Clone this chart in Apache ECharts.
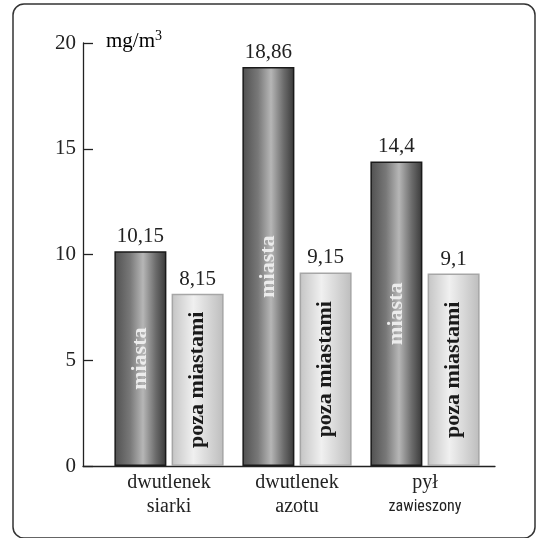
<!DOCTYPE html>
<html>
<head>
<meta charset="utf-8">
<script src="https://cdn.jsdelivr.net/npm/echarts@6/dist/echarts.min.js"></script>
<style>
html,body{margin:0;padding:0;background:#fff;}
#chart{width:537px;height:538px;}
</style>
</head>
<body>
<div id="chart"></div>
<script>
var categories = ['dwutlenek siarki', 'dwutlenek azotu', 'pył zawieszony'];
var seriesNames = ['miasta', 'poza miastami'];
var miasta = [10.15, 18.86, 14.4];
var pozaMiastami = [8.15, 9.15, 9.1];
var yTicks = [0, 5, 10, 15, 20];
var unitLabel = 'mg/m';
var unitSup = '3';

var SERIF = 'Liberation Serif';
var SANS = 'Roboto Condensed';

var chart = echarts.init(document.getElementById('chart'), null, {renderer: 'canvas'});

var gridBox = {top: 43, bottom: 72};
function fmt(v) { return String(v).replace('.', ','); }

var darkGrad = new echarts.graphic.LinearGradient(0, 0, 1, 0, [
  {offset: 0, color: '#505050'},
  {offset: 0.3, color: '#787878'},
  {offset: 0.55, color: '#b6b6b6'},
  {offset: 0.8, color: '#6a6a6a'},
  {offset: 1, color: '#383838'}
]);
var lightGrad = new echarts.graphic.LinearGradient(0, 0, 1, 0, [
  {offset: 0, color: '#c4c4c4'},
  {offset: 0.42, color: '#f0f0f0'},
  {offset: 1, color: '#bdbdbd'}
]);

function catLabel(v) {
  var parts = v.split(' ');
  if (parts[0] === 'pył') return '{s|' + parts[0] + '}\n{z|' + parts[1] + '}';
  return '{s|' + parts[0] + '}\n{s|' + parts[1] + '}';
}

var option = {
  backgroundColor: '#fff',
  animation: false,
  textStyle: {fontFamily: SERIF},
  grid: [
    {left: 83, right: 42, top: gridBox.top, bottom: gridBox.bottom},
    {left: 105, right: 48, top: gridBox.top, bottom: gridBox.bottom},
    {left: 105, right: 48, top: gridBox.top, bottom: gridBox.bottom}
  ],
  xAxis: [
    {gridIndex: 0, type: 'value', min: 0, max: 1,
     axisLine: {show: true, onZero: false, lineStyle: {color: '#222', width: 1.3}},
     axisTick: {show: false}, axisLabel: {show: false}, splitLine: {show: false}},
    {gridIndex: 1, type: 'category', data: categories,
     axisLine: {show: false}, axisTick: {show: false},
     axisLabel: {margin: 5, formatter: catLabel, lineHeight: 24, fontFamily: SERIF,
       rich: {
         s: {fontFamily: SERIF, fontSize: 20, color: '#222', lineHeight: 24},
         z: {fontFamily: SANS, fontSize: 16, color: '#222', lineHeight: 24}
       }}},
    {gridIndex: 2, type: 'category', data: categories, show: false}
  ],
  yAxis: [
    {gridIndex: 0, type: 'value', min: 0, max: 20, interval: 5,
     axisLine: {show: true, lineStyle: {color: '#222', width: 1.3}},
     axisTick: {show: true, inside: true, length: 10, lineStyle: {color: '#222', width: 1.3}},
     axisLabel: {margin: 7, fontFamily: SERIF, fontSize: 21, color: '#222',
       formatter: function (v) { return yTicks.indexOf(v) >= 0 ? String(v) : ''; }},
     splitLine: {show: false}},
    {gridIndex: 1, type: 'value', min: 0, max: 20, show: false},
    {gridIndex: 2, type: 'value', min: 0, max: 20, show: false}
  ],
  series: [
    {name: seriesNames[0], type: 'bar', xAxisIndex: 1, yAxisIndex: 1,
     data: miasta, barWidth: 52, barGap: '10%',
     itemStyle: {color: darkGrad, borderColor: '#1a1a1a', borderWidth: 1.5},
     label: {show: true, position: 'top', distance: 4, formatter: function (p) { return fmt(p.value); },
       fontFamily: SERIF, fontSize: 21, color: '#222'}},
    {name: seriesNames[1], type: 'bar', xAxisIndex: 1, yAxisIndex: 1,
     data: pozaMiastami, barWidth: 52, barGap: '10%',
     itemStyle: {color: lightGrad, borderColor: '#a6a6a6', borderWidth: 1.5},
     label: {show: true, position: 'top', distance: 4, formatter: function (p) { return fmt(p.value); },
       fontFamily: SERIF, fontSize: 21, color: '#222'}},
    {name: seriesNames[0] + ' label', type: 'bar', xAxisIndex: 2, yAxisIndex: 2,
     data: miasta, barWidth: 52, barGap: '10%', silent: true,
     itemStyle: {color: 'rgba(0,0,0,0)'},
     label: {show: true, position: 'inside', rotate: 90, formatter: seriesNames[0],
       fontFamily: SERIF, fontWeight: 'bold', fontSize: 22, color: '#ececec'}},
    {name: seriesNames[1] + ' label', type: 'bar', xAxisIndex: 2, yAxisIndex: 2,
     data: pozaMiastami, barWidth: 52, barGap: '10%', silent: true,
     itemStyle: {color: 'rgba(0,0,0,0)'},
     label: {show: true, position: 'inside', rotate: 90, formatter: seriesNames[1],
       fontFamily: SERIF, fontWeight: 'bold', fontSize: 22, color: '#1a1a1a'}}
  ],
  graphic: [
    {type: 'rect', shape: {x: 13, y: 4, width: 522, height: 534, r: 11}, z: -1,
     style: {fill: 'none', stroke: '#333', lineWidth: 1.5}},
    {type: 'text', x: 106, y: 41,
     style: {text: '{b|' + unitLabel + '}{sup|' + unitSup + '}', verticalAlign: 'middle',
       rich: {
         b: {fontFamily: SERIF, fontSize: 21, color: '#222'},
         sup: {fontFamily: SERIF, fontSize: 14, color: '#222', verticalAlign: 'top', padding: [0, 0, 10, 0]}
       }}}
  ]
};
chart.setOption(option);
</script>
</body>
</html>
